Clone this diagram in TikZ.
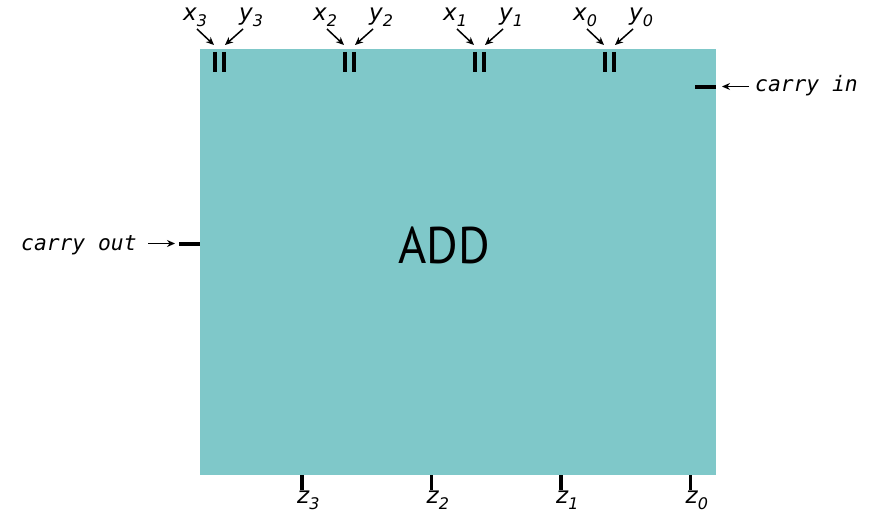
\documentclass[tikz,border=0pt]{standalone}
\usepackage{fontspec}
\usetikzlibrary{arrows.meta}
\newfontfamily\lblfont{DejaVu Sans}
\newfontfamily\monofont{DejaVu Sans Mono}
\newfontfamily\addfont{PT Sans}
\definecolor{addteal}{RGB}{127,200,201}
\tikzset{
  pin/.style={line width=4pt},
  arr/.style={line width=1.5pt,-{Stealth[length=8pt,width=7pt]}},
  lbl/.style={inner sep=0pt,anchor=base west,font=\lblfont\itshape\fontsize{23}{23}\selectfont},
  mono/.style={inner sep=0pt,anchor=base west,font=\monofont\itshape\fontsize{21.3}{21.3}\selectfont},
}
\newcommand{\sub}[1]{\raisebox{-6pt}{\fontsize{16}{16}\selectfont #1}}
\begin{document}
\begin{tikzpicture}[x={(1pt,0)},y={(0,-1pt)}]
\useasboundingbox (0,0) rectangle (878,519);
\fill[addteal] (200,49) rectangle (716,475);
\node[inner sep=0pt,anchor=base,font=\addfont\fontsize{51.5}{51.5}\selectfont,xscale=0.94] (add) at (444,263) {ADD};
% inputs
\foreach \c/\i [count=\k] in {219/3,349/2,479/1,609/0}{
  \draw[pin] (\c-4.5,52) -- (\c-4.5,72);
  \draw[pin] (\c+4.5,52) -- (\c+4.5,72);
  \node[lbl] (x\i) at (\c-36,21) {x\sub{\i}};
  \node[lbl] (y\i) at (\c+20,21) {y\sub{\i}};
  \coordinate (xs\i) at (\c-22,29);
  \coordinate (xe\i) at (\c-5,45);
  \coordinate (ys\i) at (\c+24,29);
  \coordinate (ye\i) at (\c+6,45);
  \draw[arr] (xs\i) -- (xe\i);
  \draw[arr] (ys\i) -- (ye\i);
}
% outputs
\foreach \c/\i in {302/3,431.5/2,561/1,690.5/0}{
  \draw[line width=3.5pt] (\c,475) -- (\c,490);
  \node[lbl] (z\i) at (\c-5,503) {z\sub{\i}};
}
% carry in
\draw[line width=4pt] (695,86.5) -- (716,86.5);
\node[mono] (cin) at (755,92) {carry in};
\coordinate (cinS) at (749,86.5);
\coordinate (cinE) at (722,86.5);
\draw[arr,line width=1pt] (cinS) -- (cinE);
% carry out
\draw[line width=4pt] (179,243.5) -- (200,243.5);
\node[mono] (cout) at (21,250) {carry out};
\coordinate (coutS) at (148,243.5);
\coordinate (coutE) at (175,243.5);
\draw[arr,line width=1pt] (coutS) -- (coutE);
\end{tikzpicture}
\end{document}
